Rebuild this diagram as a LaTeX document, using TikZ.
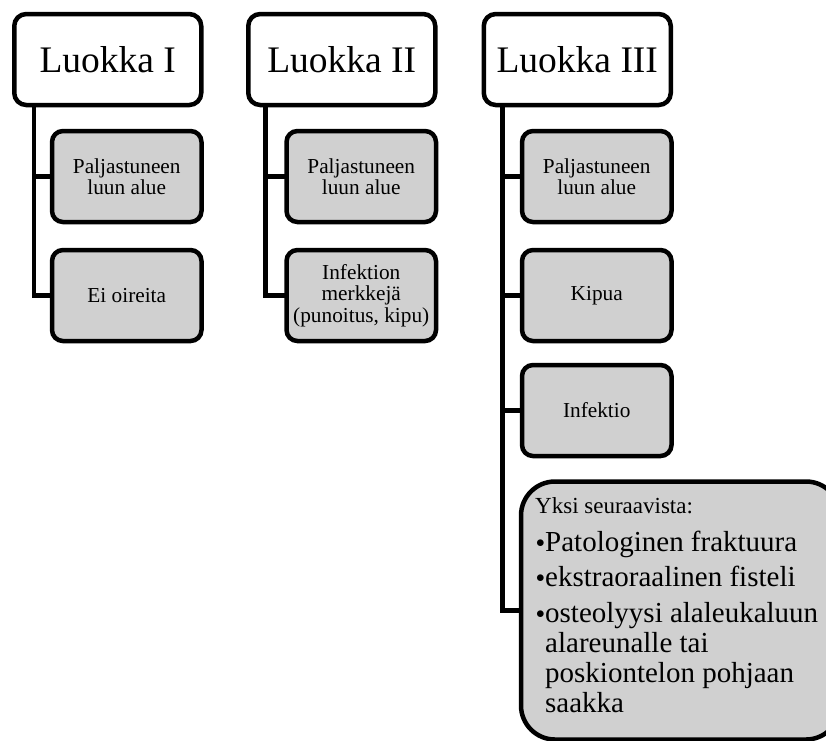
\documentclass[tikz,border=0pt]{standalone}
\usepackage{fontspec}
\setmainfont{Liberation Serif}
\definecolor{boxgray}{RGB}{208,208,208}
\newcommand\mybul{\leavevmode\llap{\raisebox{4pt}{\fontsize{16}{16}\selectfont$\bullet$}\kern0.5pt}}
\begin{document}
\begin{tikzpicture}[x=1pt,y=-1pt,
  topbox/.style={draw, line width=4.5pt, rounded corners=12pt, fill=white,
    minimum width=187pt, minimum height=91pt, inner sep=0pt, outer sep=0pt,
    font=\fontsize{37.5}{40}\selectfont},
  subbox/.style={draw, line width=4.5pt, rounded corners=11pt, fill=boxgray,
    minimum width=149.5pt, minimum height=91pt, inner sep=0pt, outer sep=0pt,
    align=center, font=\fontsize{21.3}{21.5}\selectfont},
  bigbox/.style={draw, line width=4.5pt, rounded corners=34pt, fill=boxgray,
    minimum width=319pt, minimum height=258pt, inner sep=0pt, outer sep=0pt},
  conn/.style={line width=4.5pt}]
\useasboundingbox (0,0) rectangle (826,740);
\clip (0,0) rectangle (826,740);
% top boxes
\node[topbox] (t1) at (107.75,59.5) {Luokka I};
\node[topbox] (t2) at (341.75,59.5) {Luokka II};
\node[topbox] (t3) at (577.25,59.5) {Luokka III};
% column I
\node[subbox] (c11) at (126.75,176.5) {Paljastuneen\\luun alue};
\node[subbox] (c12) at (126.75,295.5) {Ei oireita};
% column II
\node[subbox] (c21) at (361.25,176.5) {Paljastuneen\\luun alue};
\node[subbox] (c22) at (361.25,295.5) {Infektion\\merkkejä\\(punoitus, kipu)};
% column III
\node[subbox] (c31) at (596.75,176.5) {Paljastuneen\\luun alue};
\node[subbox] (c32) at (596.75,295.5) {Kipua};
\node[subbox] (c33) at (596.75,410.5) {Infektio};
\node[bigbox] (c34) at (680.5,610.5) {};
\node[anchor=base west, inner sep=0pt] (c34t) at (535,513) {\begin{minipage}[t]{300pt}\raggedright
\fontsize{23}{24}\selectfont Yksi seuraavista:\par
\vspace{2.5pt}
\fontsize{29}{30}\selectfont\leftskip=10pt\parskip=5.5pt
\mybul Patologinen fraktuura\par
\mybul ekstraoraalinen fisteli\par
\mybul osteolyysi alaleukaluun\\alareunalle tai\\poskiontelon pohjaan\\saakka\par
\end{minipage}};
% connectors
\draw[conn] ([xshift=19.5pt]t1.south west) |- (c11.west);
\draw[conn] ([xshift=19.5pt]t1.south west) |- (c12.west);
\draw[conn] ([xshift=17pt]t2.south west) |- (c21.west);
\draw[conn] ([xshift=17pt]t2.south west) |- (c22.west);
\draw[conn] ([xshift=18.5pt]t3.south west) |- (c31.west);
\draw[conn] ([xshift=18.5pt]t3.south west) |- (c32.west);
\draw[conn] ([xshift=18.5pt]t3.south west) |- (c33.west);
\draw[conn] ([xshift=18.5pt]t3.south west) |- (c34.west);
\end{tikzpicture}
\end{document}
